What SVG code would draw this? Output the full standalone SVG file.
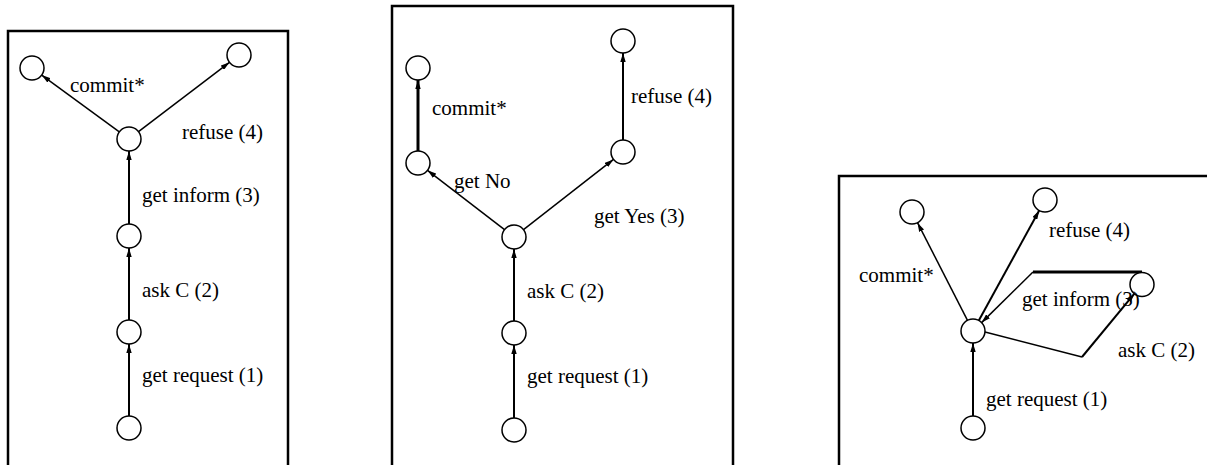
<svg xmlns="http://www.w3.org/2000/svg" width="1207" height="465" viewBox="0 0 1207 465">
  <style>
    .frame { fill: none; stroke: #000; stroke-width: 2.5; }
    .state { fill: #fff; stroke: #000; stroke-width: 1.5; }
    .edge { fill: none; stroke: #000; stroke-width: 1.5; marker-end: url(#arrow); }
    .bold { stroke-width: 2; }
    .heavy { stroke-width: 3; }
    .plain { marker-end: none; }
    .lbl { font-family: "Liberation Serif", "Times New Roman", serif; font-size: 21px; fill: #000; }
  </style>
  <defs>
    <marker id="arrow" viewBox="0 0 10 6" refX="10" refY="3" markerWidth="9" markerHeight="5.4" markerUnits="userSpaceOnUse" orient="auto">
      <path d="M0,0 L10,3 L0,6 z" fill="#000"/>
    </marker>
  </defs>

  <rect width="1207" height="465" fill="#fff"/>

  <!-- panel frames (open at the bottom) -->
  <g id="frames">
    <path class="frame" d="M8,465 V31 H288 V465"/>
    <path class="frame" d="M392,465 V6 H733 V465"/>
    <path class="frame" d="M839,465 V176 H1207"/>
  </g>

  <!-- transitions -->
  <g id="connectors">
    <!-- left -->
    <line class="edge bold" x1="129" y1="416" x2="129" y2="344"/>
    <line class="edge bold" x1="129" y1="320" x2="129" y2="248"/>
    <line class="edge bold" x1="129" y1="224" x2="129" y2="151"/>
    <line class="edge" x1="119.3" y1="131.9" x2="41.7" y2="75.1"/>
    <line class="edge" x1="138.5" y1="131.7" x2="229.5" y2="62.3"/>
    <!-- middle -->
    <line class="edge bold" x1="514" y1="418" x2="514" y2="345"/>
    <line class="edge bold" x1="514" y1="321" x2="514" y2="249"/>
    <line class="edge" x1="504.5" y1="229.7" x2="427.5" y2="170.3"/>
    <line class="edge" x1="523.5" y1="229.6" x2="613.5" y2="159.4"/>
    <line class="edge heavy" x1="418" y1="151" x2="418" y2="80"/>
    <line class="edge bold" x1="623" y1="140" x2="623" y2="53"/>
    <!-- right -->
    <line class="edge bold" x1="973" y1="416" x2="973" y2="343"/>
    <line class="edge" x1="967.5" y1="320.3" x2="917.5" y2="222.7"/>
    <line class="edge bold" x1="978.8" y1="320.5" x2="1039.2" y2="210.5"/>
    <polyline class="edge plain" points="985,332 1082,357"/>
    <line class="edge bold" x1="1082" y1="357" x2="1134.4" y2="293.7"/>
    <line class="edge heavy plain" x1="1142" y1="272" x2="1033" y2="272"/>
    <line class="edge" x1="1033" y1="272" x2="981.6" y2="322.6"/>
  </g>

  <!-- left panel states -->
  <g id="left-commit"><circle class="state" cx="32" cy="68" r="12"/></g>
  <g id="left-refuse"><circle class="state" cx="239" cy="55" r="12"/></g>
  <g id="left-informed"><circle class="state" cx="129" cy="139" r="12"/></g>
  <g id="left-asked"><circle class="state" cx="129" cy="236" r="12"/></g>
  <g id="left-requested"><circle class="state" cx="129" cy="332" r="12"/></g>
  <g id="left-start"><circle class="state" cx="129" cy="428" r="12"/></g>

  <!-- middle panel states -->
  <g id="mid-commit"><circle class="state" cx="418" cy="68" r="12"/></g>
  <g id="mid-refuse"><circle class="state" cx="623" cy="41" r="12"/></g>
  <g id="mid-no"><circle class="state" cx="418" cy="163" r="12"/></g>
  <g id="mid-yes"><circle class="state" cx="623" cy="152" r="12"/></g>
  <g id="mid-asked"><circle class="state" cx="514" cy="237" r="12"/></g>
  <g id="mid-requested"><circle class="state" cx="514" cy="333" r="12"/></g>
  <g id="mid-start"><circle class="state" cx="514" cy="430" r="12"/></g>

  <!-- right panel states -->
  <g id="right-commit"><circle class="state" cx="912" cy="212" r="12"/></g>
  <g id="right-refuse"><circle class="state" cx="1045" cy="200" r="12"/></g>
  <g id="right-ask"><circle class="state" cx="1142" cy="284.5" r="12"/></g>
  <g id="right-requested"><circle class="state" cx="973" cy="331" r="12"/></g>
  <g id="right-start"><circle class="state" cx="973" cy="428" r="12"/></g>

  <!-- labels -->
  <g id="labels" class="lbl">
    <text x="70" y="92">commit*</text>
    <text x="182" y="139">refuse (4)</text>
    <text x="142" y="202">get inform (3)</text>
    <text x="142" y="297">ask C (2)</text>
    <text x="142" y="382">get request (1)</text>

    <text x="432" y="115">commit*</text>
    <text x="631" y="103">refuse (4)</text>
    <text x="454" y="188">get No</text>
    <text x="594" y="223">get Yes (3)</text>
    <text x="527" y="298">ask C (2)</text>
    <text x="527" y="383">get request (1)</text>

    <text x="859" y="282">commit*</text>
    <text x="1049" y="237">refuse (4)</text>
    <text x="1022" y="306">get inform (3)</text>
    <text x="1118" y="357">ask C (2)</text>
    <text x="986" y="406">get request (1)</text>
  </g>
</svg>
